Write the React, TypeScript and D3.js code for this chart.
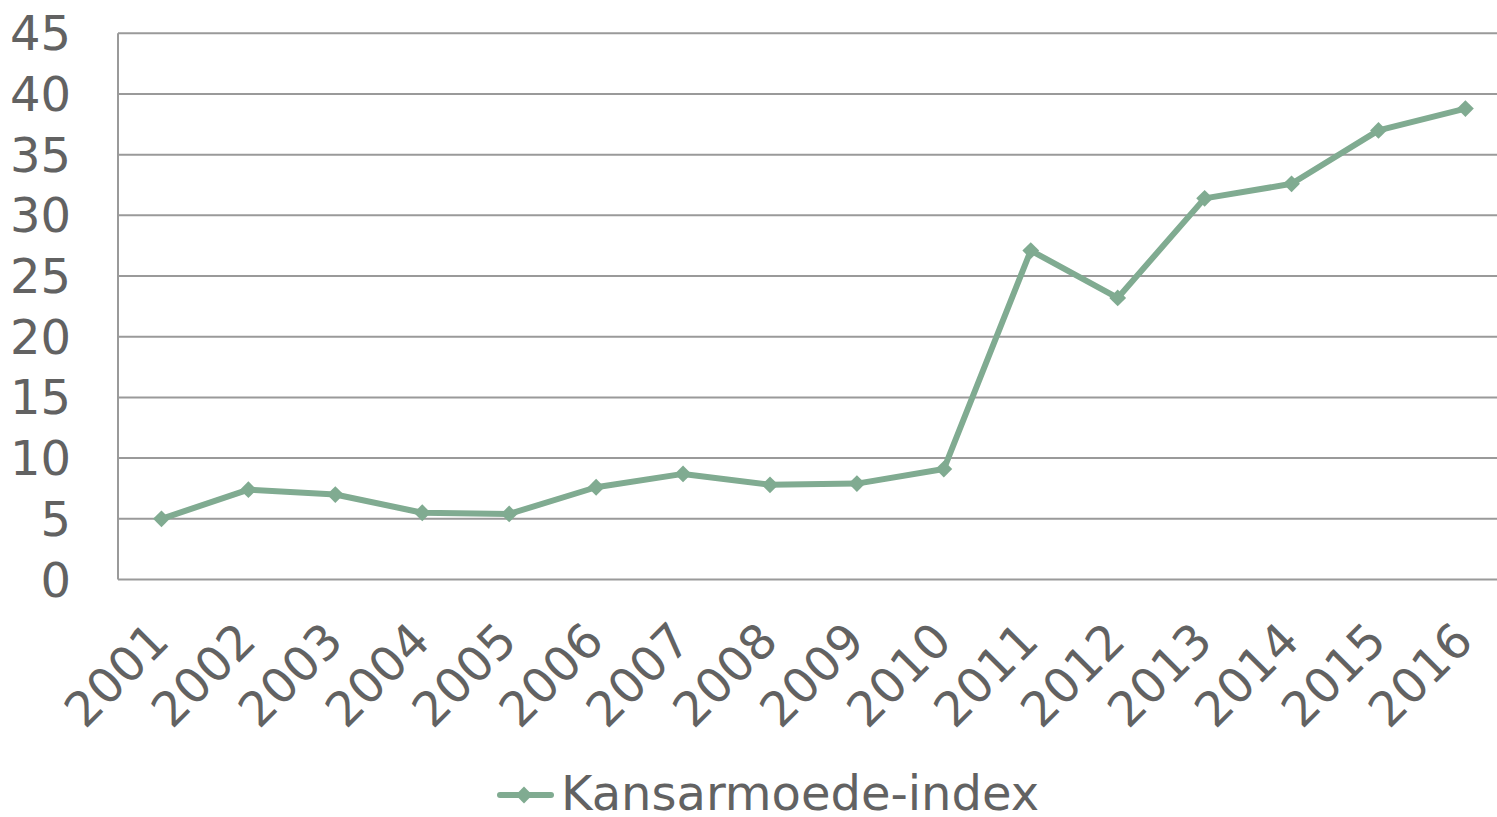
import React, { useEffect, useRef } from "react";
import * as d3 from "d3";

const years = ["2001", "2002", "2003", "2004", "2005", "2006", "2007", "2008",
    "2009", "2010", "2011", "2012", "2013", "2014", "2015", "2016"];
const indexValues = [5.0, 7.4, 7.0, 5.5, 5.4, 7.6, 8.7, 7.8, 7.9, 9.1, 27.1, 23.2, 31.4, 32.6, 37.0, 38.8];
const yTicks = [0, 5, 10, 15, 20, 25, 30, 35, 40, 45];
const seriesName = "Kansarmoede-index";

const W = 1497;
const H = 817;
const lineColor = "#80ab91";
const textColor = "#626262";
const gridColor = "#9a9a9a";
const font = "'DejaVu Sans', Verdana, sans-serif";

export default function App()
{
    const ref = useRef<SVGSVGElement>(null);

    useEffect(() =>
    {
        const svg = d3.select(ref.current);
        svg.selectAll("*").remove();

        const left = 118;
        const x = d3.scaleBand<string>()
            .domain(years)
            .range([left, left + 16 * 86.93]);
        const y = d3.scaleLinear()
            .domain([0, 45])
            .range([579.5, 33.3]);
        const cx = (d: string) => (x(d) as number) + x.bandwidth() / 2;

        // gridlines
        svg.append("g")
            .selectAll("line")
            .data(yTicks.filter((t) => t > 0))
            .enter()
            .append("line")
            .attr("x1", left)
            .attr("x2", W)
            .attr("y1", (d) => y(d))
            .attr("y2", (d) => y(d))
            .attr("stroke", gridColor)
            .attr("stroke-width", 2);

        // axes lines
        svg.append("line")
            .attr("x1", left).attr("x2", W)
            .attr("y1", y(0)).attr("y2", y(0))
            .attr("stroke", gridColor).attr("stroke-width", 2);
        svg.append("line")
            .attr("x1", left).attr("x2", left)
            .attr("y1", y(0)).attr("y2", y(45))
            .attr("stroke", gridColor).attr("stroke-width", 2);

        // y labels
        svg.append("g")
            .selectAll("text")
            .data(yTicks)
            .enter()
            .append("text")
            .attr("x", 71)
            .attr("y", (d) => y(d) + 17)
            .attr("text-anchor", "end")
            .style("font-family", font)
            .style("font-size", "48px")
            .attr("fill", textColor)
            .text((d) => d);

        // x labels
        svg.append("g")
            .selectAll("text")
            .data(years)
            .enter()
            .append("text")
            .attr("transform", (d) => `translate(${cx(d) + 10},${y(0) + 64}) rotate(-45)`)
            .attr("text-anchor", "end")
            .style("font-family", font)
            .style("font-size", "48px")
            .attr("fill", textColor)
            .text((d) => d);

        const line = d3.line<number>()
            .x((d, i) => cx(years[i]))
            .y((d) => y(d));

        svg.append("path")
            .datum(indexValues)
            .attr("d", line)
            .attr("fill", "none")
            .attr("stroke", lineColor)
            .attr("stroke-width", 6)
            .attr("stroke-linejoin", "round");

        const diamond = d3.symbol().type(d3.symbolDiamond2).size(180);

        svg.append("g")
            .selectAll("path")
            .data(indexValues)
            .enter()
            .append("path")
            .attr("d", diamond)
            .attr("transform", (d, i) => `translate(${cx(years[i])},${y(d)})`)
            .attr("fill", lineColor);

        // legend
        const legend = svg.append("g").attr("transform", "translate(0,795)");
        legend.append("line")
            .attr("x1", 500).attr("x2", 551)
            .attr("y1", 0).attr("y2", 0)
            .attr("stroke", lineColor)
            .attr("stroke-width", 6)
            .attr("stroke-linecap", "round");
        legend.append("path")
            .attr("d", diamond)
            .attr("transform", "translate(524,0)")
            .attr("fill", lineColor);
        legend.append("text")
            .attr("x", 561)
            .attr("y", 15)
            .style("font-family", font)
            .style("font-size", "48px")
            .attr("fill", textColor)
            .text(seriesName);
    }, []);

    return (
        <svg ref={ref} width={W} height={H}
            style={{ position: "absolute", left: 0, top: 0, background: "#fff" }} />
    );
}
